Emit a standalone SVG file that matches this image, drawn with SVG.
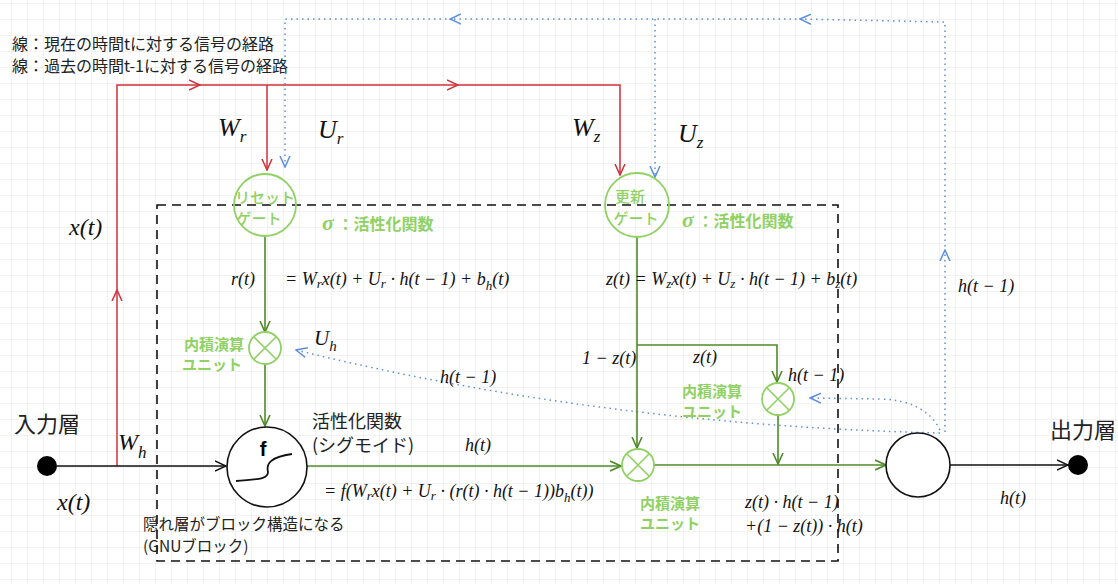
<svg xmlns="http://www.w3.org/2000/svg" width="1118" height="584" viewBox="0 0 1118 584">
<style>
.jp{font-family:"Noto Sans CJK JP","Noto Sans",sans-serif;fill:#222}
.gj{font-family:"Noto Sans CJK JP",sans-serif;fill:#8fd163;font-weight:500}
.gb{font-family:"Noto Sans CJK JP",sans-serif;fill:#8fd163;font-weight:bold}
.m{font-family:"Liberation Serif",serif;font-style:italic;fill:#111}
.red{stroke:#d0303a;stroke-width:1.5;fill:none}
.blu{stroke:#5b8fde;stroke-width:1.5;fill:none;stroke-dasharray:1.5 4}
.grn{stroke:#4f8a2a;stroke-width:1.6;fill:none}
.blk{stroke:#111;stroke-width:1.5;fill:none}
.lg{stroke:#8fd163;stroke-width:1.8;fill:#fff}
</style>
<defs>
<pattern id="g" width="16" height="16" patternUnits="userSpaceOnUse" x="12" y="4">
<path d="M16 0V16M0 16H16" stroke="#e4e4e4" stroke-width="1" fill="none"/>
</pattern>
<marker id="ar" viewBox="0 0 12 12" refX="11" refY="6" markerWidth="12" markerHeight="12" markerUnits="userSpaceOnUse" orient="auto"><path d="M0 1L11 6L0 11" fill="none" stroke="#d0303a" stroke-width="1.5"/></marker>
<marker id="ab" viewBox="0 0 12 12" refX="11" refY="6" markerWidth="12" markerHeight="12" markerUnits="userSpaceOnUse" orient="auto"><path d="M0 1L11 6L0 11" fill="none" stroke="#5b8fde" stroke-width="1.5"/></marker>
<marker id="ag" viewBox="0 0 12 12" refX="11" refY="6" markerWidth="12" markerHeight="12" markerUnits="userSpaceOnUse" orient="auto"><path d="M0 1L11 6L0 11" fill="none" stroke="#4f8a2a" stroke-width="1.6"/></marker>
<marker id="ak" viewBox="0 0 12 12" refX="11" refY="6" markerWidth="12" markerHeight="12" markerUnits="userSpaceOnUse" orient="auto"><path d="M0 1L11 6L0 11" fill="none" stroke="#111" stroke-width="1.5"/></marker>
</defs>
<rect width="1118" height="584" fill="#fff"/>
<rect width="1118" height="584" fill="url(#g)"/>

<g id="legend">
<text class="jp" x="12" y="50" font-size="16">線：現在の時間tに対する信号の経路</text>
<text class="jp" x="12" y="72" font-size="16">線：過去の時間t-1に対する信号の経路</text>
</g>

<g id="block">
<rect x="157" y="205" width="681" height="356" fill="none" stroke="#111" stroke-width="1.6" stroke-dasharray="9 6"/>
<text class="jp" x="143" y="530" font-size="15.5">隠れ層がブロック構造になる</text>
<text class="jp" x="143" y="552" font-size="15.5">(GNUブロック)</text>
</g>

<g id="connectors">
<path class="red" d="M117 466V290" marker-end="url(#ar)"/>
<path class="red" d="M117 292V85H200" marker-end="url(#ar)"/>
<path class="red" d="M198 85H458" marker-end="url(#ar)"/>
<path class="red" d="M456 85H620V175" marker-end="url(#ar)"/>
<path class="red" d="M267 85V170" marker-end="url(#ar)"/>
<path class="blu" d="M945 432V250" marker-end="url(#ab)"/>
<path class="blu" d="M945 252V22L800 19" marker-end="url(#ab)"/>
<path class="blu" d="M802 19H450" marker-end="url(#ab)"/>
<path class="blu" d="M452 19H285V167" marker-end="url(#ab)"/>
<path class="blu" d="M655 19V177" marker-end="url(#ab)"/>
<path class="blu" d="M940 433Q600 425 296 350" marker-end="url(#ab)"/>
<path class="blu" d="M940 430Q925 400 880 399L810 398" marker-end="url(#ab)"/>
<path class="grn" d="M265 237V332" marker-end="url(#ag)"/>
<path class="grn" d="M265 364V426" marker-end="url(#ag)"/>
<path class="grn" d="M637 237V448" marker-end="url(#ag)"/>
<path class="grn" d="M637 345H777V382" marker-end="url(#ag)"/>
<path class="grn" d="M778 415V464" marker-end="url(#ag)"/>
<path class="grn" d="M307 466H621" marker-end="url(#ag)"/>
<path class="grn" d="M654 465H886" marker-end="url(#ag)"/>
<path class="blk" d="M57 466H226" marker-end="url(#ak)"/>
<path class="blk" d="M950 465H1068" marker-end="url(#ak)"/>
</g>

<g id="input"><circle cx="47" cy="466" r="10" fill="#000"/><text class="jp" x="14" y="432" font-size="22">入力層</text></g>
<g id="output"><circle cx="1078" cy="465" r="10" fill="#000"/><text class="jp" x="1050" y="438" font-size="22">出力層</text></g>

<g id="reset-gate">
<circle class="lg" cx="265" cy="205" r="31" fill-opacity="0"/>
<text class="gj" x="265" y="203" font-size="15" text-anchor="middle">リセット</text>
<text class="gj" x="259" y="224" font-size="15" text-anchor="middle">ゲート</text>
<text class="gb" x="322" y="230" font-size="16"><tspan font-family="Liberation Serif" font-style="italic" font-size="22">σ</tspan> ：活性化関数</text>
</g>
<g id="update-gate">
<circle class="lg" cx="637" cy="205" r="32" fill-opacity="0"/>
<text class="gj" x="630" y="202" font-size="15" text-anchor="middle">更新</text>
<text class="gj" x="636" y="224" font-size="15" text-anchor="middle">ゲート</text>
<text class="gb" x="682" y="227" font-size="16"><tspan font-family="Liberation Serif" font-style="italic" font-size="22">σ</tspan> ：活性化関数</text>
</g>

<g id="mul-reset">
<circle class="lg" cx="265" cy="348" r="16"/>
<path d="M254 337L276 359M276 337L254 359" stroke="#8fd163" stroke-width="1.6"/>
<text class="gb" x="244" y="350" font-size="15" text-anchor="end">内積演算</text>
<text class="gb" x="242" y="370" font-size="15" text-anchor="end">ユニット</text>
</g>
<g id="mul-update">
<circle class="lg" cx="778" cy="399" r="16"/>
<path d="M767 388L789 410M789 388L767 410" stroke="#8fd163" stroke-width="1.6"/>
<text class="gb" x="682" y="397" font-size="15">内積演算</text>
<text class="gb" x="682" y="417" font-size="15">ユニット</text>
</g>
<g id="mul-out">
<circle class="lg" cx="638" cy="465" r="16"/>
<path d="M627 454L649 476M649 454L627 476" stroke="#8fd163" stroke-width="1.6"/>
<text class="gb" x="640" y="509" font-size="15">内積演算</text>
<text class="gb" x="640" y="529" font-size="15">ユニット</text>
</g>

<g id="f-node">
<circle cx="267" cy="467" r="40" fill="#fff" stroke="#111" stroke-width="1.6"/>
<text x="263" y="456" font-family="Liberation Sans,sans-serif" font-weight="bold" font-size="20" text-anchor="middle">f</text>
<path d="M236 481C255 479 268 480 268 472C266 464 270 457 292 454" fill="none" stroke="#111" stroke-width="1.8"/>
<text class="jp" x="312" y="428" font-size="18">活性化関数</text>
<text class="jp" x="312" y="452" font-size="18">(シグモイド)</text>
</g>
<g id="out-node"><circle cx="918" cy="465" r="32" fill="#fff" stroke="#111" stroke-width="1.6"/></g>

<g id="math" font-size="18">
<text class="m" x="218" y="136" font-size="26">W<tspan font-size="17" dy="6">r</tspan></text>
<text class="m" x="318" y="138" font-size="26">U<tspan font-size="17" dy="6">r</tspan></text>
<text class="m" x="572" y="136" font-size="26">W<tspan font-size="17" dy="6">z</tspan></text>
<text class="m" x="678" y="142" font-size="26">U<tspan font-size="17" dy="6">z</tspan></text>
<text class="m" x="69" y="235" font-size="24">x(t)</text>
<text class="m" x="57" y="510" font-size="24">x(t)</text>
<text class="m" x="118" y="450" font-size="24">W<tspan font-size="17" dy="8">h</tspan></text>
<text class="m" x="314" y="345" font-size="21">U<tspan font-size="15" dy="6">h</tspan></text>
<text class="m" x="231" y="285">r(t)</text>
<text class="m" x="285" y="285">= W<tspan font-size="13" dy="3">r</tspan><tspan dy="-3">x(t) + U</tspan><tspan font-size="13" dy="3">r</tspan><tspan dy="-3"> · h(t − 1) + b</tspan><tspan font-size="13" dy="5">h</tspan><tspan dy="-5">(t)</tspan></text>
<text class="m" x="606" y="285">z(t) = W<tspan font-size="13" dy="3">z</tspan><tspan dy="-3">x(t) + U</tspan><tspan font-size="13" dy="3">z</tspan><tspan dy="-3"> · h(t − 1) + b</tspan><tspan font-size="13" dy="3">z</tspan><tspan dy="-3">(t)</tspan></text>
<text class="m" x="440" y="383">h(t − 1)</text>
<text class="m" x="465" y="451">h(t)</text>
<text class="m" x="324" y="497">= f(W<tspan font-size="13" dy="3">r</tspan><tspan dy="-3">x(t) + U</tspan><tspan font-size="13" dy="3">r</tspan><tspan dy="-3"> · (r(t) · h(t − 1))b</tspan><tspan font-size="13" dy="5">h</tspan><tspan dy="-5">(t))</tspan></text>
<text class="m" x="582" y="364">1 − z(t)</text>
<text class="m" x="693" y="363">z(t)</text>
<text class="m" x="788" y="381">h(t − 1)</text>
<text class="m" x="745" y="508">z(t) · h(t − 1)</text>
<text class="m" x="745" y="532">+(1 − z(t)) · h(t)</text>
<text class="m" x="1000" y="504">h(t)</text>
<text class="m" x="958" y="292">h(t − 1)</text>
</g>
</svg>
